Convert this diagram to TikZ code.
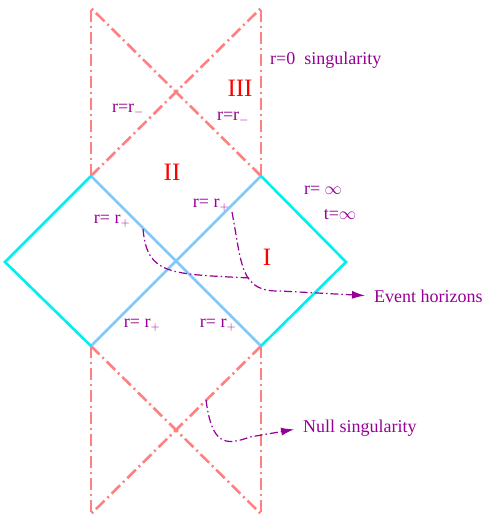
\documentclass[tikz,border=0pt]{standalone}
\usepackage{fontspec}
\setmainfont{Liberation Serif}
\usepackage{xcolor}
\usetikzlibrary{arrows.meta}
\definecolor{salmon}{RGB}{255,128,128}
\definecolor{aqua}{RGB}{0,240,240}
\definecolor{skyb}{RGB}{130,200,250}
\definecolor{plum}{RGB}{150,0,150}

\begin{document}
\begin{tikzpicture}[x=1pt,y=-1pt,
  sing/.style={salmon,line width=2.6pt,dash pattern=on 12pt off 4pt on 2pt off 4pt},
  scri/.style={aqua,line width=2.6pt},
  hor/.style={skyb,line width=2.6pt},
  guide/.style={plum,line width=1.2pt,dash pattern=on 8pt off 3pt on 1.5pt off 3pt},
  lbl/.style={plum,font=\fontsize{18}{20}\selectfont,inner sep=1pt},
  reg/.style={red,font=\fontsize{25}{28}\selectfont,inner sep=0pt}]
  \useasboundingbox (0,0) rectangle (498,519);
  % corners of the diagram
  \coordinate (W) at (5,262);   \coordinate (E) at (346,262);
  \coordinate (NL) at (91,176); \coordinate (NR) at (261,176);
  \coordinate (SL) at (91,346); \coordinate (SR) at (261,346);
  \coordinate (TL) at (91,8);   \coordinate (TR) at (261,8);
  \coordinate (BL) at (91,514); \coordinate (BR) at (261,514);
  % singularities and inner horizons
  \draw[sing] (NL)--(TL);
  \draw[sing] (NR)--(TR);
  \draw[sing] (NL)--(TR);
  \draw[sing] (NR)--(TL);
  \draw[sing] (SL)--(BL);
  \draw[sing] (SR)--(BR);
  \draw[sing] (SL)--(BR);
  \draw[sing] (SR)--(BL);
  % event horizons
  \draw[hor] (NL)--(SR);
  \draw[hor] (SL)--(NR);
  % infinity
  \draw[scri] (NL)--(W)--(SL);
  \draw[scri] (NR)--(E)--(SR);
  % region labels
  \node[reg] (rI) at (267,257) {I};
  \node[reg] (rII) at (172,172) {II};
  \node[reg] (rIII) at (240,88) {III};
  % texts
  \node[lbl,anchor=west] (rzero) at (269,60) {r=0\ \ singularity};
  \node[lbl] (rmA) at (128,110) {r=r$_{-}$};
  \node[lbl] (rmB) at (233,118) {r=r$_{-}$};
  \node[lbl] (rpA) at (112,221) {r= r$_{+}$};
  \node[lbl] (rpB) at (211,205) {r= r$_{+}$};
  \node[lbl] (rpC) at (142,325) {r= r$_{+}$};
  \node[lbl] (rpD) at (218,325) {r= r$_{+}$};
  \node[lbl] (rinf) at (323,190) {r= $\infty$};
  \node[lbl] (tinf) at (340,215) {t=$\infty$};
  \node[lbl,anchor=west] (evh) at (373,296) {Event horizons};
  \node[lbl,anchor=west] (nulls) at (302,428) {Null singularity};
  % pointers
  \coordinate (pA) at (143,229);
  \coordinate (pB) at (232,212);
  \coordinate (pJ) at (250,278);
  \coordinate (pN) at (206,400);
  \draw[guide] (pA) .. controls (147,275) and (170,274) .. (pJ);
  \draw[guide,shorten >=8pt,-{Latex[length=13pt,width=8pt]}] (pB) .. controls (242,265) and (240,292) .. (280,291) -- (evh.west);
  \draw[guide,shorten >=8pt,-{Latex[length=13pt,width=8pt]}] (pN) .. controls (212,445) and (225,446) .. (250,437) -- (nulls.west);
\end{tikzpicture}
\end{document}
